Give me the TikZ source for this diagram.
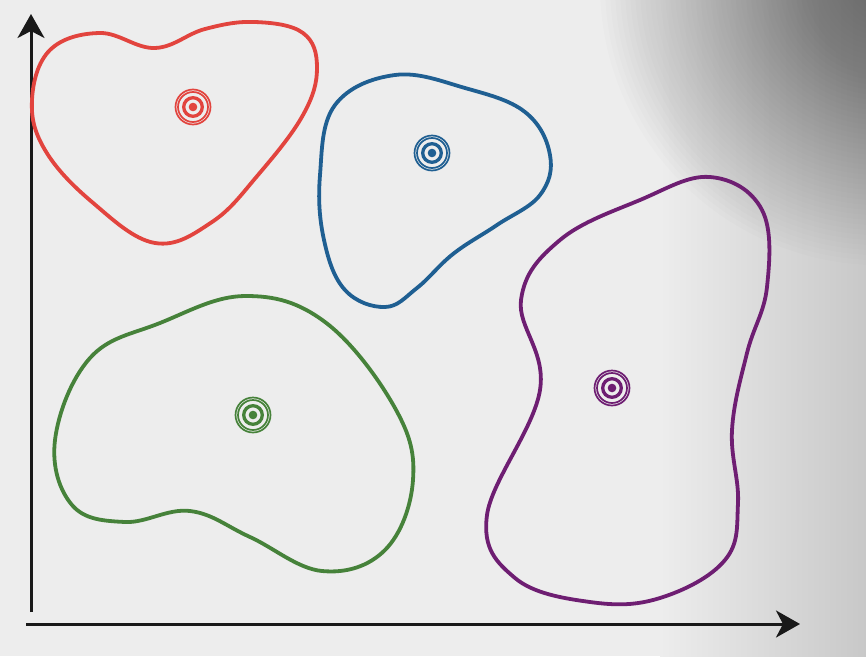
\documentclass[tikz,border=0pt]{standalone}
\usepackage{xcolor}
\usepackage{tikz}
\usetikzlibrary{
  arrows.meta,
  calc
}
\definecolor{papel}{RGB}{237,237,237}
\definecolor{borda}{RGB}{200,200,200}
\definecolor{sombra}{RGB}{40,40,40}
\definecolor{tinta}{RGB}{25,25,25}
\definecolor{grupoA}{RGB}{226,68,62}
\definecolor{grupoB}{RGB}{31,95,146}
\definecolor{grupoC}{RGB}{70,130,58}
\definecolor{grupoD}{RGB}{110,30,114}

\begin{document}
\begin{tikzpicture}[
      x=1pt, y=-1pt,
      eixo/.style={line width=3pt, tinta, -{Stealth[length=24pt, width=27pt, inset=7pt]}},
      contorno/.style={line width=3.8pt, smooth cycle, tension=0.65},
      pics/alvo/.style={code={
          \draw[line width=1.7pt] (0,0) circle (17.5);
          \draw[line width=1.7pt] (0,0) circle (15);
          \draw[line width=3.3pt] (0,0) circle (9.3);
          \fill (0,0) circle (4.3);
      }}
  ]
      \useasboundingbox (0,0) rectangle (866,656);

      % Fundo (papel com canto escuro)
      \fill[papel] (0,0) rectangle (866,656);
      \shade[left color=papel, right color=borda] (660,0) rectangle (866,656);
      \begin{scope}
          \clip (0,0) rectangle (866,656);
          \foreach \r in {280,275,...,5}
              \fill[sombra, opacity=0.011] (880,-15) circle (\r);
      \end{scope}

      % Eixos
      \coordinate (origem) at (31,624);
      \coordinate (topo) at (31,14);
      \coordinate (fim) at (800,624);
      \draw[eixo] ($(origem)+(0,-12)$) -- (topo);
      \draw[eixo] ($(origem)+(-5,0)$) -- (fim);

      % Centros dos grupos
      \coordinate (cA) at (193,107);
      \coordinate (cB) at (432,153);
      \coordinate (cC) at (253,415);
      \coordinate (cD) at (612,388);

      % Contornos
      \draw[grupoA, contorno] plot coordinates {(32,100) (50,50) (100,33) (155,48) (205,29) (255,22) (303,33) (317,68) (303,115) (258,175) (212,222) (155,243) (92,202) (45,150)};
      \draw[grupoB, contorno] plot coordinates {(320,175) (335,105) (395,75) (465,88) (525,112) (550,155) (540,195) (497,225) (453,254) (417,288) (385,307) (345,290) (324,240)};
      \draw[grupoC, contorno] plot coordinates {(245,296) (160,323) (90,358) (55,440) (72,505) (125,522) (190,511) (250,537) (322,571) (385,550) (413,480) (395,408) (325,322)};
      \draw[grupoD, contorno] plot coordinates {(710,177) (762,210) (767,287) (747,353) (732,430) (738,503) (725,560) (660,598) (590,602) (515,578) (487,515) (540,390) (521,300) (560,240) (640,200)};

      % Alvos
      \pic[grupoA] at (cA) {alvo};
      \pic[grupoB] at (cB) {alvo};
      \pic[grupoC] at (cC) {alvo};
      \pic[grupoD] at (cD) {alvo};
  \end{tikzpicture}
\end{document}
